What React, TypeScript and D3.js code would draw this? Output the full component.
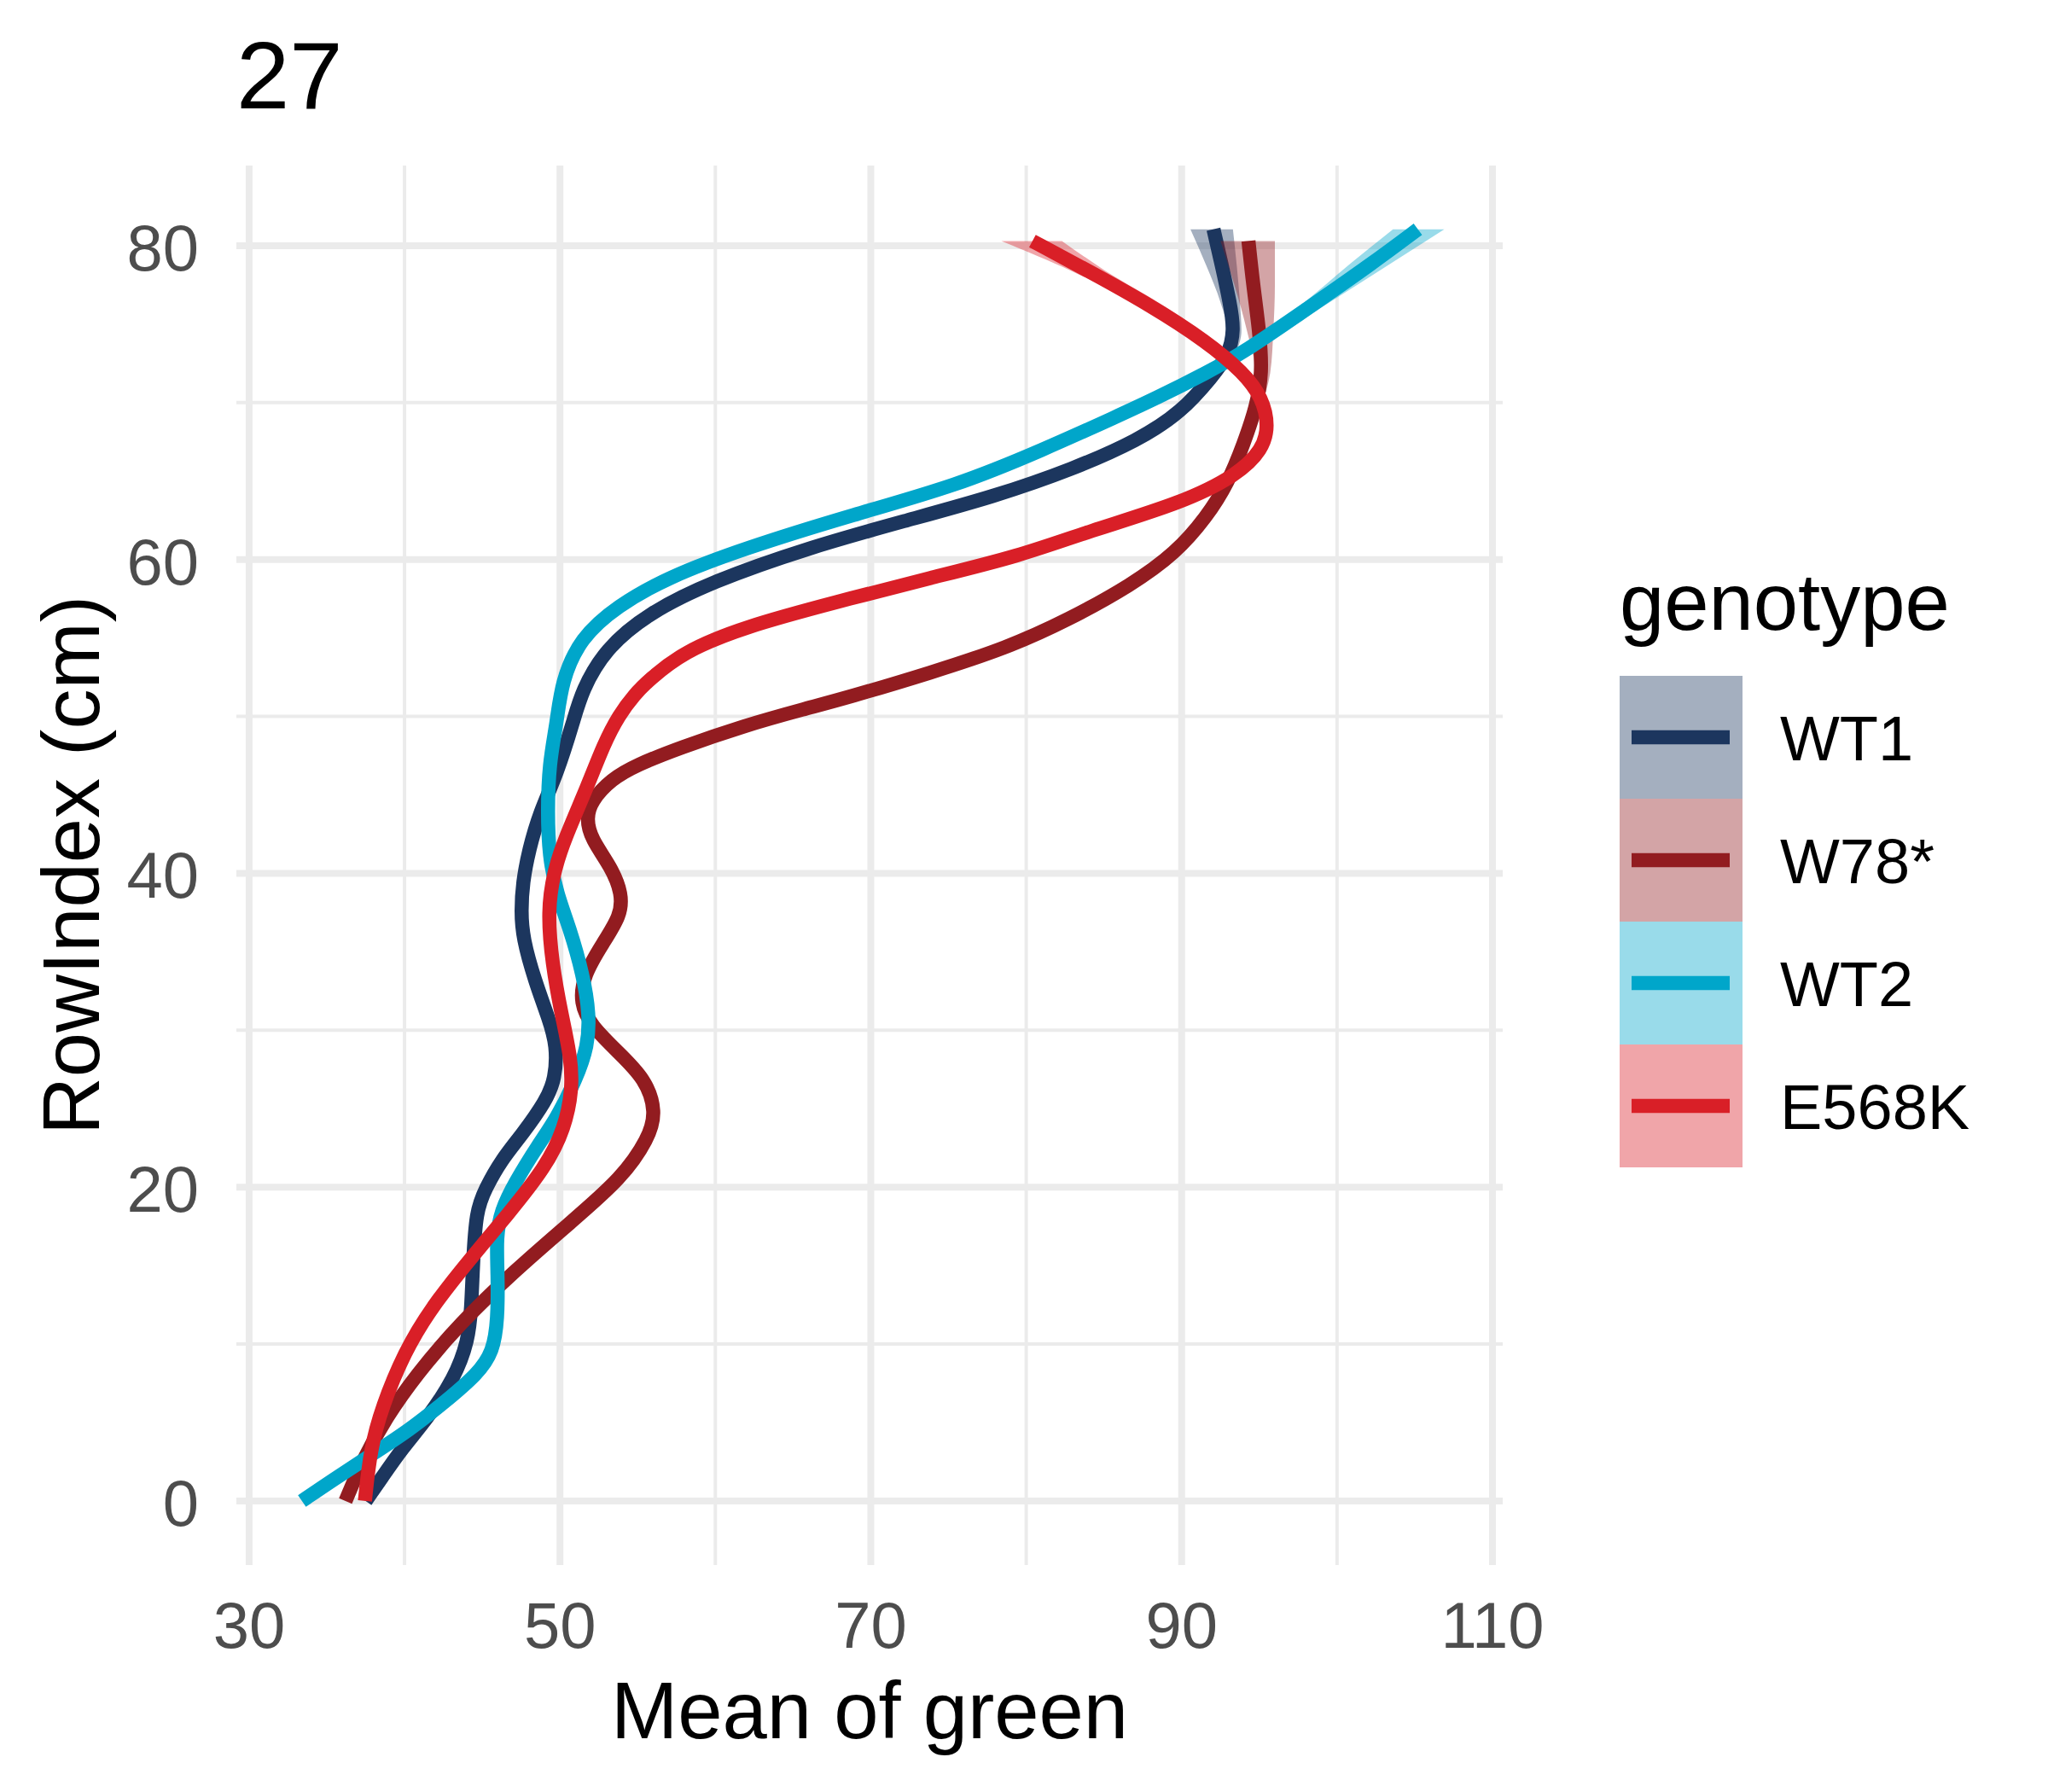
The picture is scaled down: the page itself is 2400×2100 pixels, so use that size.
import React, { useEffect } from 'react';
import * as d3 from 'd3';

// genotype order as in the legend (also the drawing order)
const genotypes = ['WT1', 'W78*', 'WT2', 'E568K'];
const lineColors = ['#1C365E', '#921C20', '#00A6CA', '#D91F27'];

// smoothed mean of green per RowIndex
const wt1Row = [0, 1.5, 3.3, 5.3, 7.8, 10.2, 12.3, 15.1, 18.5, 19.9, 21.7, 23.4, 25.5, 26.9, 29.0, 30.7, 33.1, 35.9, 37.6, 39.4, 41.5, 43.9, 46.3, 49.8, 51.6, 54.3, 56.6, 58.6, 60.7, 62.5, 64.0, 65.8, 67.6, 69.4, 71.7, 73.0, 74.6, 76.4, 78.7, 81.05];
const wt1Green = [37.5, 38.55, 39.8, 41.5, 43.2, 44.1, 44.3, 44.4, 44.6, 45.2, 46.2, 47.6, 49.1, 49.7, 49.8, 49.3, 48.4, 47.6, 47.5, 47.6, 48.0, 48.7, 49.8, 50.9, 51.4, 52.9, 55.7, 59.8, 65.8, 72.3, 77.9, 83.1, 87.2, 90.0, 92.0, 93.0, 93.4, 93.1, 92.6, 92.05];

const w78Row = [0, 2.6, 5.3, 8.1, 11.25, 14.7, 17.85, 20.6, 23.1, 24.8, 26.9, 28.6, 30.3, 31.7, 33.5, 35.6, 37.3, 38.7, 40.4, 42.2, 43.5, 44.6, 46.0, 46.9, 48.0, 49.4, 50.5, 51.2, 52.8, 54.35, 56.15, 58.4, 60.4, 62.7, 64.9, 67.4, 69.7, 71.9, 74.6, 77.5, 80.3];
const w78Green = [36.2, 37.3, 38.8, 40.8, 43.5, 47.1, 50.8, 54.0, 55.7, 56.2, 55.5, 53.75, 52.0, 51.3, 51.5, 52.8, 53.9, 54.0, 53.3, 52.0, 51.7, 52.0, 53.3, 54.9, 57.7, 61.8, 65.8, 68.5, 73.9, 78.7, 82.7, 86.8, 89.6, 91.6, 93.0, 94.0, 94.8, 95.2, 95.0, 94.6, 94.3];

const wt2Row = [0, 1.35, 2.9, 4.5, 6.4, 8.1, 9.5, 11.6, 14.4, 16.8, 18.5, 20.3, 22.7, 24.4, 26.9, 29.0, 31.0, 33.5, 36.6, 38.7, 41.1, 43.9, 47.0, 49.6, 52.2, 55.0, 57.05, 58.85, 60.7, 62.9, 64.7, 67.0, 69.2, 70.3, 71.9, 73.2, 76.0, 78.9, 81.05];
const wt2Green = [33.4, 35.4, 37.8, 40.3, 42.7, 44.7, 45.7, 46.0, 46.0, 45.9, 46.2, 47.1, 48.6, 49.8, 51.05, 51.8, 51.9, 51.5, 50.6, 49.8, 49.3, 49.2, 49.3, 49.8, 50.1, 51.3, 53.7, 56.9, 61.8, 69.0, 75.5, 81.1, 86.0, 88.4, 91.6, 94.0, 98.1, 102.3, 105.2];

const e568kRow = [0, 3.3, 6.0, 9.5, 12.3, 15.4, 18.2, 21.3, 23.75, 26.2, 28.3, 31.0, 34.2, 37.6, 40.1, 42.2, 45.6, 48.2, 50.1, 51.4, 52.3, 54.1, 55.7, 57.3, 58.85, 60.2, 61.8, 63.6, 65.4, 67.0, 68.5, 70.3, 71.9, 73.9, 76.2, 78.4, 80.3];
const e568kGreen = [37.45, 37.8, 38.55, 40.0, 41.7, 44.2, 46.6, 49.1, 50.3, 50.8, 50.7, 50.1, 49.5, 49.2, 49.6, 50.3, 51.8, 52.8, 53.8, 54.8, 55.7, 57.9, 61.8, 67.8, 73.9, 79.5, 84.0, 90.0, 93.6, 95.2, 95.6, 95.2, 94.0, 91.6, 88.0, 84.0, 80.4];

// confidence band, only visible near the top ends
const wt1BandRow = [69.4, 71.7, 73.0, 74.6, 76.4, 78.7, 81.05];
const wt1BandLo = [89.8, 91.75, 92.65, 92.95, 92.5, 91.6, 90.57];
const wt1BandHi = [90.2, 92.25, 93.35, 93.85, 93.75, 93.55, 93.3];

const w78BandRow = [69.7, 71.9, 74.6, 77.5, 80.3];
const w78BandLo = [94.5, 94.75, 94.2, 93.4, 92.5];
const w78BandHi = [95.1, 95.7, 95.9, 96.0, 96.0];

const wt2BandRow = [70.3, 71.9, 73.2, 76.0, 78.9, 81.05];
const wt2BandLo = [88.1, 91.2, 93.5, 97.4, 100.9, 103.6];
const wt2BandHi = [88.7, 92.0, 94.5, 98.9, 103.5, 106.9];

const e568kBandRow = [71.9, 73.9, 76.2, 78.4, 80.3];
const e568kBandLo = [93.8, 91.1, 87.2, 82.9, 78.4];
const e568kBandHi = [94.2, 92.1, 88.8, 85.1, 82.3];

const xMajor = [30, 50, 70, 90, 110];
const xMinor = [40, 60, 80, 100];
const yMajor = [0, 20, 40, 60, 80];
const yMinor = [10, 30, 50, 70];

const FONT = "'Liberation Sans', Arial, Helvetica, sans-serif";

export default function App() {
  useEffect(() => {
    document.body.style.margin = '0';
  }, []);

  const W = 2400;
  const H = 2100;
  const panel = { left: 277, right: 1761, top: 194, bottom: 1834 };

  const x = d3.scaleLinear().domain([29.18, 110.66]).range([panel.left, panel.right]);
  const y = d3.scaleLinear().domain([-4.08, 85.11]).range([panel.bottom, panel.top]);

  const series = [
    { row: wt1Row, green: wt1Green, bRow: wt1BandRow, lo: wt1BandLo, hi: wt1BandHi },
    { row: w78Row, green: w78Green, bRow: w78BandRow, lo: w78BandLo, hi: w78BandHi },
    { row: wt2Row, green: wt2Green, bRow: wt2BandRow, lo: wt2BandLo, hi: wt2BandHi },
    { row: e568kRow, green: e568kGreen, bRow: e568kBandRow, lo: e568kBandLo, hi: e568kBandHi },
  ];

  // b-spline through the read points evens out reading noise
  const line = d3.line<[number, number]>()
    .x(d => x(d[0]))
    .y(d => y(d[1]))
    .curve(d3.curveBasis);

  const band = d3.area<[number, number, number]>()
    .y(d => y(d[0]))
    .x0(d => x(d[1]))
    .x1(d => x(d[2]))
    .curve(d3.curveMonotoneY);

  const keyTop = 792;
  const keySize = 144;

  return (
    <svg width={W} height={H} viewBox={`0 0 ${W} ${H}`} style={{ display: 'block', background: '#fff' }}>
      <rect x={0} y={0} width={W} height={H} fill="#fff" />

      {/* grid */}
      {xMinor.map(v => (
        <line key={'xm' + v} x1={x(v)} x2={x(v)} y1={panel.top} y2={panel.bottom} stroke="#EBEBEB" strokeWidth={4} />
      ))}
      {yMinor.map(v => (
        <line key={'ym' + v} x1={panel.left} x2={panel.right} y1={y(v)} y2={y(v)} stroke="#EBEBEB" strokeWidth={4} />
      ))}
      {xMajor.map(v => (
        <line key={'xM' + v} x1={x(v)} x2={x(v)} y1={panel.top} y2={panel.bottom} stroke="#EBEBEB" strokeWidth={8} />
      ))}
      {yMajor.map(v => (
        <line key={'yM' + v} x1={panel.left} x2={panel.right} y1={y(v)} y2={y(v)} stroke="#EBEBEB" strokeWidth={8} />
      ))}

      {/* smooths: band then line, group by group */}
      {series.map((s, i) => {
        const pts = s.row.map((r, k) => [s.green[k], r] as [number, number]);
        const bpts = s.bRow.map((r, k) => [r, s.lo[k], s.hi[k]] as [number, number, number]);
        return (
          <g key={genotypes[i]}>
            <path d={band(bpts) || ''} fill={lineColors[i]} fillOpacity={0.4} stroke="none" />
            <path d={line(pts) || ''} fill="none" stroke={lineColors[i]} strokeWidth={16.5}
              strokeLinecap="butt" strokeLinejoin="round" />
          </g>
        );
      })}

      {/* axis tick labels */}
      {xMajor.map(v => (
        <text key={'xt' + v} x={x(v)} y={1931} textAnchor="middle" fontFamily={FONT} fontSize={76} fill="#4D4D4D">{v}</text>
      ))}
      {yMajor.map(v => (
        <text key={'yt' + v} x={233} y={y(v) + 29} textAnchor="end" fontFamily={FONT} fontSize={76} fill="#4D4D4D">{v}</text>
      ))}

      {/* axis titles */}
      <text x={(panel.left + panel.right) / 2} y={2037} textAnchor="middle" fontFamily={FONT} fontSize={94} fill="#000">Mean of green</text>
      <text transform={`translate(116,${(panel.top + panel.bottom) / 2}) rotate(-90)`} textAnchor="middle" fontFamily={FONT} fontSize={94} fill="#000">RowIndex (cm)</text>

      {/* plot title */}
      <text x={277} y={127} fontFamily={FONT} fontSize={112} fill="#000">27</text>

      {/* legend */}
      <text x={1898} y={738} fontFamily={FONT} fontSize={94} fill="#000">genotype</text>
      {genotypes.map((g, i) => {
        const top = keyTop + i * keySize;
        const cy = top + keySize / 2;
        return (
          <g key={'lg' + g}>
            <rect x={1898} y={top} width={keySize} height={keySize} fill={lineColors[i]} fillOpacity={0.4} />
            <line x1={1912} x2={2027} y1={cy} y2={cy} stroke={lineColors[i]} strokeWidth={16.5} />
            <text x={2086} y={cy + 27} fontFamily={FONT} fontSize={74} fill="#000">{g}</text>
          </g>
        );
      })}
    </svg>
  );
}
